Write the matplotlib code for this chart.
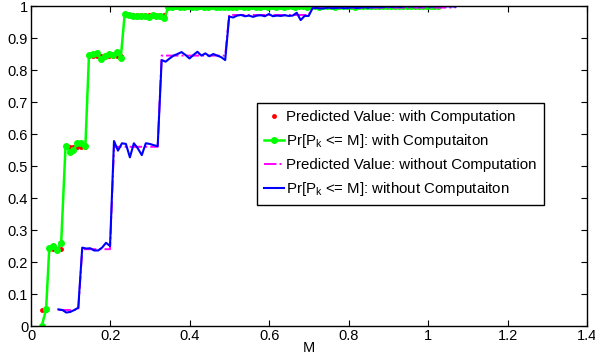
import matplotlib
matplotlib.use('Agg')
import matplotlib.pyplot as plt
import numpy as np

plt.rcParams['font.family'] = ['Liberation Sans', 'DejaVu Sans']
plt.rcParams['mathtext.fontset'] = 'custom'
plt.rcParams['mathtext.rm'] = 'Liberation Sans'
plt.rcParams['mathtext.it'] = 'Liberation Sans'

# with computation: measured CDF (green) and predicted values (red)
mWith = [0.027, 0.038, 0.046, 0.056, 0.066, 0.076, 0.087, 0.097, 0.107, 0.117,
         0.127, 0.137, 0.146, 0.156, 0.166, 0.176, 0.186, 0.196, 0.206, 0.216,
         0.226, 0.236, 0.246, 0.256, 0.266, 0.276, 0.286, 0.296, 0.306, 0.316,
         0.326, 0.336, 0.346, 0.356, 0.366, 0.376, 0.386, 0.396, 0.406, 0.416,
         0.426, 0.436, 0.446, 0.456, 0.466, 0.476, 0.486, 0.496, 0.506, 0.516,
         0.526, 0.536, 0.546, 0.556, 0.566, 0.576, 0.586, 0.596, 0.606, 0.616,
         0.626, 0.636, 0.646, 0.656, 0.666, 0.676, 0.686, 0.696, 0.706, 0.716,
         0.726, 0.736, 0.746, 0.756, 0.766, 0.776, 0.786, 0.796, 0.806, 0.816,
         0.826, 0.836, 0.846, 0.856, 0.866, 0.876, 0.886, 0.896, 0.906, 0.916,
         0.926, 0.936, 0.946, 0.956, 0.966, 0.976, 0.986, 0.996, 1.006, 1.016,
         1.026]
cdfWith = [0.0, 0.052, 0.243, 0.251, 0.237, 0.26, 0.563, 0.545, 0.55, 0.571,
           0.573, 0.563, 0.847, 0.85, 0.853, 0.835, 0.845, 0.85, 0.846, 0.857,
           0.838, 0.975, 0.972, 0.97, 0.97, 0.968, 0.97, 0.967, 0.972, 0.968,
           0.97, 0.961, 0.997, 0.998, 0.999, 0.997, 0.998, 0.999, 0.996, 0.998,
           0.999, 0.998, 0.997, 0.999, 0.998, 0.997, 0.998, 0.996, 0.997, 0.998,
           0.999, 0.997, 0.998, 0.999, 0.998, 0.997, 0.999, 0.998, 0.999, 0.998,
           0.999, 0.998, 0.999, 0.999, 0.998, 0.999, 0.999, 0.998, 0.999, 0.999,
           0.998, 0.999, 0.999, 0.999, 0.998, 0.999, 0.999, 0.999, 0.999, 0.998,
           0.999, 0.999, 1.0, 0.999, 0.999, 1.0, 0.999, 1.0, 0.999, 1.0,
           1.0, 0.999, 1.0, 1.0, 1.0, 0.999, 1.0, 1.0, 1.0, 1.0,
           1.0]
predWith = [0.05, 0.05, 0.24, 0.24, 0.24, 0.24, 0.56, 0.56, 0.56, 0.56,
            0.56, 0.56, 0.845, 0.845, 0.845, 0.845, 0.845, 0.845, 0.845, 0.845,
            0.845, 0.972, 0.972, 0.972, 0.972, 0.972, 0.972, 0.972, 0.972, 0.972,
            0.972, 0.972, 1.0, 1.0, 1.0, 1.0, 1.0, 1.0, 1.0, 1.0,
            1.0, 1.0, 1.0, 1.0, 1.0, 1.0, 1.0, 1.0, 1.0, 1.0,
            1.0, 1.0, 1.0, 1.0, 1.0, 1.0, 1.0, 1.0, 1.0, 1.0,
            1.0, 1.0, 1.0, 1.0, 1.0, 1.0, 1.0, 1.0, 1.0, 1.0,
            1.0, 1.0, 1.0, 1.0, 1.0, 1.0, 1.0, 1.0, 1.0, 1.0,
            1.0, 1.0, 1.0, 1.0, 1.0, 1.0, 1.0, 1.0, 1.0, 1.0,
            1.0, 1.0, 1.0, 1.0, 1.0, 1.0, 1.0, 1.0, 1.0, 1.0,
            1.0]

# without computation: measured CDF (blue) and predicted values (magenta)
mWithout = [0.069, 0.079, 0.089, 0.099, 0.109, 0.119, 0.129, 0.139, 0.149, 0.159,
            0.169, 0.179, 0.189, 0.199, 0.209, 0.219, 0.229, 0.239, 0.249, 0.259,
            0.269, 0.279, 0.289, 0.299, 0.309, 0.319, 0.329, 0.339, 0.349, 0.359,
            0.369, 0.379, 0.389, 0.399, 0.409, 0.419, 0.429, 0.439, 0.449, 0.459,
            0.469, 0.479, 0.489, 0.499, 0.509, 0.519, 0.529, 0.539, 0.549, 0.559,
            0.569, 0.579, 0.589, 0.599, 0.609, 0.619, 0.629, 0.639, 0.649, 0.659,
            0.669, 0.679, 0.689, 0.699, 0.709, 0.719, 0.729, 0.739, 0.749, 0.759,
            0.769, 0.779, 0.789, 0.799, 0.809, 0.819, 0.829, 0.839, 0.849, 0.859,
            0.869, 0.879, 0.889, 0.899, 0.909, 0.919, 0.929, 0.939, 0.949, 0.959,
            0.969, 0.979, 0.989, 0.999, 1.009, 1.019, 1.029, 1.039, 1.049, 1.059,
            1.069]
cdfWithout = [0.052, 0.05, 0.042, 0.044, 0.05, 0.057, 0.245, 0.242, 0.243, 0.236,
              0.236, 0.245, 0.26, 0.25, 0.578, 0.548, 0.571, 0.569, 0.527, 0.571,
              0.555, 0.534, 0.571, 0.569, 0.565, 0.562, 0.831, 0.826, 0.836, 0.845,
              0.85, 0.856, 0.847, 0.836, 0.847, 0.857, 0.845, 0.852, 0.843, 0.85,
              0.845, 0.84, 0.831, 0.967, 0.964, 0.97, 0.972, 0.968, 0.97, 0.966,
              0.97, 0.971, 0.968, 0.975, 0.968, 0.97, 0.969, 0.971, 0.969, 0.97,
              0.979, 0.956, 0.969, 0.969, 0.993, 0.994, 0.992, 0.993, 0.995, 0.993,
              0.994, 0.995, 0.993, 0.994, 0.996, 0.994, 0.995, 0.996, 0.995, 0.996,
              0.997, 0.996, 0.997, 0.998, 0.997, 0.998, 0.997, 0.998, 0.999, 0.998,
              0.999, 0.998, 0.999, 0.999, 0.998, 0.999, 0.999, 1.0, 0.999, 0.999,
              0.998]
predWithout = [0.05, 0.05, 0.05, 0.05, 0.05, 0.05, 0.24, 0.24, 0.24, 0.24,
               0.24, 0.24, 0.24, 0.24, 0.56, 0.56, 0.56, 0.56, 0.56, 0.56,
               0.56, 0.56, 0.56, 0.56, 0.56, 0.56, 0.845, 0.845, 0.845, 0.845,
               0.845, 0.845, 0.845, 0.845, 0.845, 0.845, 0.845, 0.845, 0.845, 0.845,
               0.845, 0.845, 0.845, 0.972, 0.972, 0.972, 0.972, 0.972, 0.972, 0.972,
               0.972, 0.972, 0.972, 0.972, 0.972, 0.972, 0.972, 0.972, 0.972, 0.972,
               0.972, 0.972, 0.972, 0.972, 0.995, 0.995, 0.995, 0.995, 0.995, 0.995,
               0.995, 0.995, 0.995, 0.995, 0.995, 0.995, 0.995, 0.995, 0.995, 0.995,
               0.995, 0.995, 0.995, 0.995, 0.995, 0.995, 0.995, 0.995, 0.995, 0.995,
               0.995, 0.995, 0.995, 0.995, 0.995, 0.995, 0.995, 0.995, 0.995, 0.995,
               0.995]

xTicks = [0, 0.2, 0.4, 0.6, 0.8, 1, 1.2, 1.4]
xTickLabels = ['0', '0.2', '0.4', '0.6', '0.8', '1', '1.2', '1.4']
yTicks = [0, 0.1, 0.2, 0.3, 0.4, 0.5, 0.6, 0.7, 0.8, 0.9, 1]
yTickLabels = ['0', '0.1', '0.2', '0.3', '0.4', '0.5', '0.6', '0.7', '0.8', '0.9', '1']

fig = plt.figure(figsize=(5.95, 3.64), dpi=100)
ax = fig.add_axes([31 / 595, 1 - 326 / 364, 556 / 595, 320 / 364])

ax.plot(mWith, predWith, linestyle='none', marker='.', markersize=5, color='red',
        label='Predicted Value: with Computation')
ax.plot(mWith, cdfWith, color='#00ff00', linewidth=1.8, marker='o', markersize=4.0,
        label='Pr[P$_\\mathregular{k}$ <= M]: with Computaiton')
ax.plot(mWithout, predWithout, color='magenta', linestyle='-.', linewidth=1.4,
        label='Predicted Value: without Computation')
ax.plot(mWithout, cdfWithout, color='blue', linewidth=1.5,
        label='Pr[P$_\\mathregular{k}$ <= M]: without Computaiton')

ax.set_xlim(0, 1.4)
ax.set_ylim(0, 1)
ax.set_xticks(xTicks)
ax.set_xticklabels(xTickLabels)
ax.set_yticks(yTicks)
ax.set_yticklabels(yTickLabels)
ax.tick_params(direction='in', top=True, right=True, labelsize=10.5, length=4, pad=2)
for s in ax.spines.values():
    s.set_linewidth(1.0)
ax.set_xlabel('M', fontsize=10.5, labelpad=-1)

leg = ax.legend(loc='upper left', bbox_to_anchor=(0.406, 0.697), borderaxespad=0,
                fontsize=10.8, frameon=True, fancybox=False, edgecolor='black',
                framealpha=1, handlelength=1.3, handletextpad=0.15, borderpad=0.5,
                labelspacing=0.52)
leg.get_frame().set_linewidth(1.0)

fig.savefig('out.png', dpi=100)
